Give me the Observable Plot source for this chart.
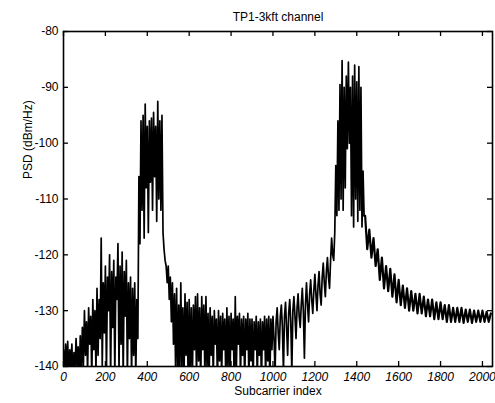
<!DOCTYPE html>
<html><head><meta charset="utf-8">
<script src="https://cdn.jsdelivr.net/npm/d3@7"></script>
<script src="https://cdn.jsdelivr.net/npm/@observablehq/plot@0.6"></script>
<style>body{margin:0;background:#fff} svg{font-family:"Liberation Sans",Arial,sans-serif}</style>
</head><body><div id="chart"></div>
<script>
const title = "TP1-3kft channel";
const xLabel = "Subcarrier index";
const yLabel = "PSD (dBm/Hz)";

// PSD (dBm/Hz), subcarrier 0, 5, 10, ... 1435
const psdFineStart = 0, psdFineStep = 5;
const psdFine = [
  -137,-141,-136,-140,-135.5,-142,-137,-140,-136,-143,
  -137.5,-141,-135,-140,-136.5,-142,-134.5,-141,-133,-140,
  -130,-138,-132,-141,-129.5,-136,-131,-142,-128,-137,
  -130,-141,-126,-138,-128,-135,-117,-140,-125,-134,
  -122,-141,-124,-130,-120,-142,-123,-133,-121,-142,
  -124,-128,-118,-141,-122,-136,-119.5,-142,-123,-131,
  -121,-142,-125,-135,-124,-142,-126,-138,-125,-142,
  -128,-135,-106,-118,-96,-112,-95,-117,-93,-108,
  -97,-116,-96,-107,-95.5,-112,-94.5,-106,-97,-114,
  -92.5,-110,-96,-112,-95,-116,-119,-121,-122,-125,
  -122,-128,-124,-132,-125,-136,-127,-140,-126,-142,
  -129,-142,-125,-140,-129.5,-143,-127,-138,-128.5,-142,
  -128,-140,-129.5,-143,-129,-137,-127.5,-142,-127,-139,
  -129.5,-143,-127.5,-137,-129,-142,-127.5,-140,-130.5,-143,
  -129.5,-138,-131,-142,-130,-136,-131.5,-143,-130,-139,
  -131,-142,-130.5,-137,-131.5,-143,-129.5,-140,-131,-142,
  -130.5,-137,-131.5,-143,-127.5,-141,-131,-136,-130.5,-142,
  -131.5,-138,-131,-143,-131.5,-137,-130.5,-142,-131.5,-139,
  -131.5,-143,-132,-137,-131,-142,-132,-138,-131.5,-143,
  -132,-137,-131,-142,-131.5,-139,-131,-143,-131.5,-137,
  -131,-135,-141,-132,-129.5,-134,-137,-131,-129,-133,
  -141,-131,-128.5,-133,-138,-130.5,-128,-132,-141,-130,
  -127.5,-131,-135,-129.5,-127,-131,-133,-129,-126,-130,
  -138.5,-129,-125,-129,-132,-127,-124.5,-128,-130.5,-126.5,
  -123.5,-127,-130,-125.5,-123,-127,-129,-124,-121.5,-125,
  -127.5,-123,-120.5,-124,-126,-121,-117,-120,-121,-116,
  -104,-113,-96,-112,-89.5,-110,-85.2,-112,-90,-108,
  -88,-101,-85.5,-100,-90,-113,-88,-115,-86,-110,
  -89,-114,-86.3,-112,-90,-115,-105,-113
];
// PSD (dBm/Hz), subcarrier 1440, 1450, ... 2040
const psdTailStart = 1440, psdTailStep = 10;
const psdTail = [
  -113,-119,-115.5,-120.5,-117,-122,
  -119,-124.5,-120.5,-126,-122,-126.5,-122.5,-127.5,-123.5,-128.5,
  -124.5,-129,-125.5,-129.5,-126,-130,-126.5,-130,-127,-130.5,
  -127,-130.5,-127.5,-131,-128,-131,-128,-131.5,-128.5,-131.5,
  -128.5,-131.5,-129,-132,-129,-132,-129.5,-132,-129.5,-132,
  -129.5,-132.2,-129.8,-132,-129.8,-132.2,-130,-132,-130,-132,
  -130,-132,-130.2,-132,-130.5
];
const xTicks = [0,200,400,600,800,1000,1200,1400,1600,1800,2000];
const yTicks = [-140,-130,-120,-110,-100,-90,-80];

const fine = psdFine.map((v, i) => ({x: psdFineStart + i * psdFineStep, y: v}));
const tail = psdTail.map((v, i) => ({x: psdTailStart + i * psdTailStep, y: v}));
const fineJoined = fine.concat(tail.slice(0, 1));
const tailJoined = fine.slice(-1).concat(tail);

const W = 495, H = 403, mT = 31, mB = 37, mL = 63, mR = 3;
const innerW = W - mL - mR, innerH = H - mT - mB;
const fmt = d => String(d);

const plot = Plot.plot({
  width: W, height: H,
  marginTop: mT, marginBottom: mB, marginLeft: mL, marginRight: mR,
  style: {fontFamily: '"Liberation Sans", Arial, sans-serif', fontSize: "12px", color: "black", background: "white"},
  x: {domain: [0, 2048]},
  y: {domain: [-140, -80]},
  marks: [
    Plot.line(fineJoined, {x: "x", y: "y", stroke: "black", strokeWidth: 1.7, clip: true}),
    Plot.line(tailJoined, {x: "x", y: "y", stroke: "black", strokeWidth: 2.2, clip: true}),
    Plot.frame({stroke: "black", strokeWidth: 1.6}),
    Plot.tickX(xTicks, {x: d => d, insetTop: innerH - 5, stroke: "black", strokeWidth: 1.3}),
    Plot.tickX(xTicks, {x: d => d, insetBottom: innerH - 5, stroke: "black", strokeWidth: 1.3}),
    Plot.tickY(yTicks, {y: d => d, insetRight: innerW - 5, stroke: "black", strokeWidth: 1.3}),
    Plot.tickY(yTicks, {y: d => d, insetLeft: innerW - 5, stroke: "black", strokeWidth: 1.3}),
    Plot.axisX({ticks: xTicks, tickFormat: fmt, tickSize: 0, tickPadding: 6, label: null, fontStyle: "italic", fontSize: 12}),
    Plot.axisY({ticks: yTicks, tickFormat: fmt, tickSize: 0, tickPadding: 5, label: null, fontSize: 12}),
    Plot.text([title], {text: d => d, frameAnchor: "top", dy: -19, fontSize: 12}),
    Plot.text([xLabel], {text: d => d, frameAnchor: "bottom", dy: 28, fontSize: 12}),
    Plot.text([yLabel], {text: d => d, frameAnchor: "left", dx: -35, dy: -20, rotate: -90, fontSize: 12})
  ]
});
document.getElementById("chart").appendChild(plot);
</script>
</body></html>
